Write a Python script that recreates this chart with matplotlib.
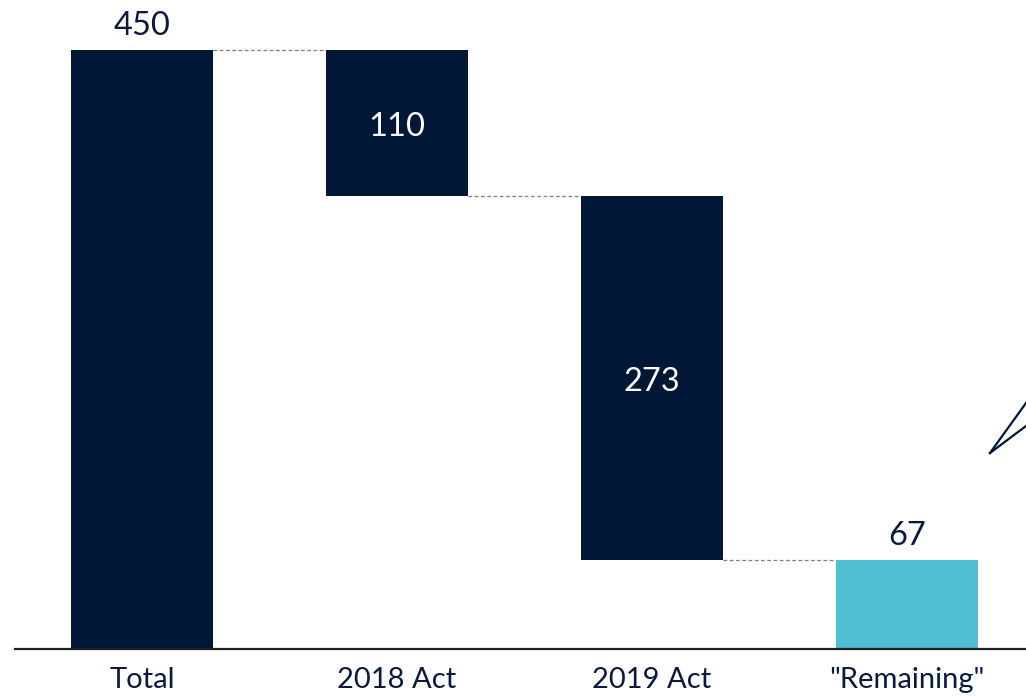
import numpy as np
import matplotlib.pyplot as plt
from matplotlib.lines import Line2D

categories = ["Total", "2018 Act", "2019 Act", "\"Remaining\""]
values = [450, 110, 273, 67]
kinds = ["total", "step", "step", "total"]

NAVY = "#001738"
TEAL = "#52BED1"
TEXT = "#0B1A3C"

plt.rcParams["font.family"] = ["Lato", "DejaVu Sans"]

# waterfall: bottoms and tops of each bar
bottoms, tops = [], []
level = 0
for v, k in zip(values, kinds):
    if k == "total":
        bottoms.append(0)
        tops.append(v)
        level = v
    else:
        bottoms.append(level - v)
        tops.append(level)
        level -= v

fig = plt.figure(figsize=(10.26, 6.99), dpi=100)
ax = fig.add_axes([15 / 1026, 50 / 699, 1011 / 1026, 649 / 699])

x = np.arange(len(categories))
width = 0.557
colors = [NAVY, NAVY, NAVY, TEAL]
heights = [t - b for t, b in zip(tops, bottoms)]
ax.bar(x, heights, bottom=bottoms, width=width, color=colors, zorder=2)

# dashed connectors between neighbouring bars
levels = [tops[0], bottoms[1], bottoms[2]]
for i, lv in enumerate(levels):
    ax.plot([x[i] + width / 2, x[i + 1] - width / 2], [lv, lv],
            ls=(0, (3, 2)), color="#7f7f7f", lw=0.9, zorder=1)

# value labels
for i, v in enumerate(values):
    if kinds[i] == "total":
        ax.text(x[i], tops[i] + 7, str(v), ha="center", va="bottom",
                fontsize=23.5, color=TEXT)
    else:
        ax.text(x[i], (tops[i] + bottoms[i]) / 2 - 3, str(v), ha="center",
                va="center", fontsize=23.5, color="white")

ax.set_xlim(-0.498, 3.467)
ax.set_ylim(0, 487.6)
ax.set_xticks(x)
ax.set_xticklabels(categories, fontsize=21, color=TEXT)
ax.tick_params(axis="x", length=0, pad=13)
ax.set_yticks([])
for side in ["top", "right", "left"]:
    ax.spines[side].set_visible(False)
ax.spines["bottom"].set_linewidth(1.6)
ax.spines["bottom"].set_color("#222222")

# edge of a callout shape cut off at the right border
fig.add_artist(Line2D([990 / 1026, 1026 / 1026], [1 - 453 / 699, 1 - 403 / 699],
                      color=NAVY, lw=1.6, transform=fig.transFigure))
fig.add_artist(Line2D([990 / 1026, 1026 / 1026], [1 - 453 / 699, 1 - 426 / 699],
                      color=NAVY, lw=1.6, transform=fig.transFigure))

fig.savefig("out.png", dpi=100)
